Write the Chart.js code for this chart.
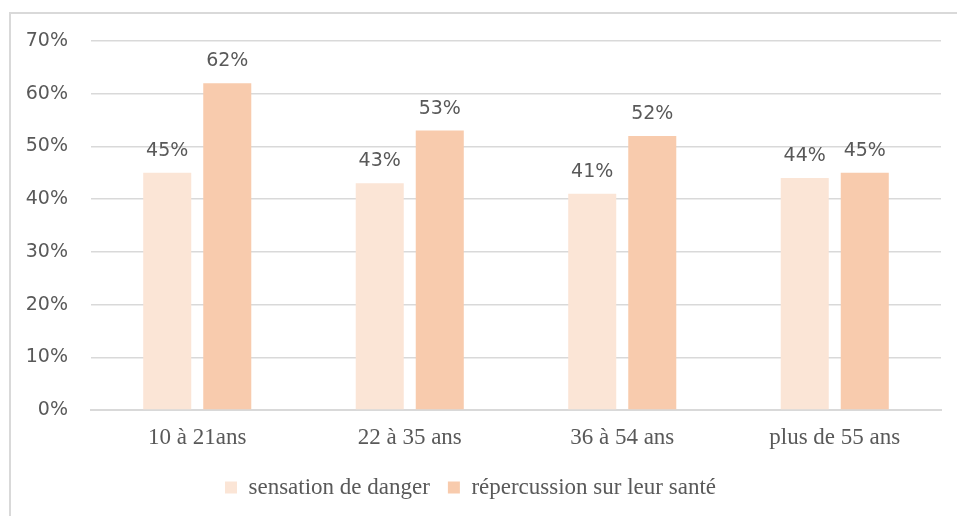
<!DOCTYPE html>
<html>
<head>
<meta charset="utf-8">
<script src="https://cdn.jsdelivr.net/npm/chart.js@4/dist/chart.umd.min.js"></script>
<style>
  html, body { margin: 0; padding: 0; background: #fff; }
  #wrap { width: 957px; height: 516px; position: relative; }
</style>
</head>
<body>
<div id="wrap"><canvas id="chart"></canvas></div>
<script>
// Data
const categories = ["10 à 21ans", "22 à 35 ans", "36 à 54 ans", "plus de 55 ans"];
const seriesNames = ["sensation de danger", "répercussion sur leur santé"];
const danger = [45, 43, 41, 44];
const sante = [62, 53, 52, 45];
const yTicks = [0, 10, 20, 30, 40, 50, 60, 70];

const SERIF = "'Liberation Serif', 'Times New Roman', serif";
const SANS = "'DejaVu Sans', sans-serif";
const GREY = "#595959";

// frame around the chart (top and left edges only are visible)
const framePlugin = {
  id: "frame",
  beforeDraw(chart) {
    const ctx = chart.ctx;
    ctx.save();
    ctx.strokeStyle = "#d9d9d9";
    ctx.lineWidth = 2;
    ctx.beginPath();
    ctx.moveTo(10, 520);
    ctx.lineTo(10, 13);
    ctx.lineTo(960, 13);
    ctx.stroke();
    ctx.restore();
  }
};

// value labels above bars
const valueLabels = {
  id: "valueLabels",
  afterDatasetsDraw(chart) {
    const ctx = chart.ctx;
    ctx.save();
    ctx.font = "19px " + SANS;
    ctx.fillStyle = GREY;
    ctx.textAlign = "center";
    ctx.textBaseline = "alphabetic";
    chart.data.datasets.forEach((ds, i) => {
      chart.getDatasetMeta(i).data.forEach((bar, j) => {
        ctx.fillText(ds.data[j] + "%", bar.x, bar.y - 17);
      });
    });
    ctx.restore();
  }
};

new Chart(document.getElementById("chart"), {
  type: "bar",
  data: {
    labels: categories,
    datasets: [
      {
        label: seriesNames[0],
        data: danger,
        backgroundColor: "#fbe5d6",
        categoryPercentage: 0.565,
        barPercentage: 0.8
      },
      {
        label: seriesNames[1],
        data: sante,
        backgroundColor: "#f8cbad",
        categoryPercentage: 0.565,
        barPercentage: 0.8
      }
    ]
  },
  options: {
    responsive: true,
    maintainAspectRatio: false,
    animation: false,
    layout: { padding: { top: 41, right: 16, bottom: 7, left: 0 } },
    plugins: {
      tooltip: { enabled: false },
      legend: {
        position: "bottom",
        labels: {
          font: { family: SERIF, size: 23 },
          color: GREY,
          boxWidth: 12,
          boxHeight: 12,
          padding: 18
        }
      }
    },
    scales: {
      x: {
        grid: { display: false, drawTicks: false },
        border: { color: "#d9d9d9", width: 2 },
        ticks: {
          font: { family: SERIF, size: 23 },
          color: GREY,
          padding: 14
        },
        afterFit(scale) { scale.height = 48; }
      },
      y: {
        min: 0,
        max: 70,
        afterBuildTicks(scale) {
          scale.ticks = yTicks.map(v => ({ value: v }));
        },
        grid: { color: "#d9d9d9", lineWidth: 1.5, drawTicks: false },
        border: { display: false },
        ticks: {
          font: { family: SANS, size: 19 },
          color: GREY,
          padding: 23,
          callback: v => v + "%"
        },
        afterFit(scale) { scale.width = 91; }
      }
    }
  },
  plugins: [framePlugin, valueLabels]
});
</script>
</body>
</html>
